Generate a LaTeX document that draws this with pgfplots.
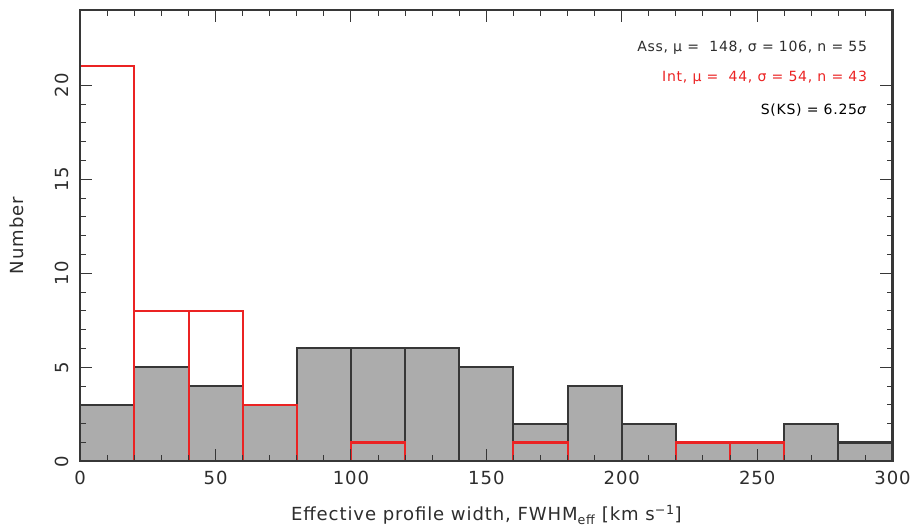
\documentclass[border=0pt]{standalone}
\usepackage{fontspec}
\setmainfont{DejaVu Sans}[LetterSpace=5]
\usepackage{pgfplots}
\pgfplotsset{compat=1.18}
\definecolor{barfill}{RGB}{172,172,172}
\definecolor{edge}{RGB}{55,55,55}
\definecolor{txt}{RGB}{45,45,45}
\definecolor{histred}{RGB}{235,35,35}
\begin{document}
\begin{tikzpicture}
\begin{axis}[
  width=810pt, height=450pt, scale only axis,
  xmin=0, xmax=300, ymin=0, ymax=24,
  xtick={0,50,...,300}, minor x tick num=4,
  ytick={0,5,...,20}, minor y tick num=4,
  tick align=inside, major tick length=12pt, minor tick length=6pt,
  tick style={edge, line width=1pt},
  axis line style={edge, line width=2.2pt},
  axis on top,
  /pgf/number format/assume math mode=true,
  ticklabel style={font=\fontsize{18}{20}\selectfont, text=txt},
  xticklabel shift=6pt,
  yticklabel shift=8pt,
  yticklabel style={rotate=90, anchor=south},
  xlabel={Effective profile width, FWHM\textsubscript{eff} [km s\textsuperscript{−1}]},
  ylabel={Number},
  xlabel shift=14pt,
  ylabel shift=24pt,
  label style={font=\fontsize{18}{20}\selectfont, text=txt},
  clip=false,
]
% Ass sample
\addplot[ybar, bar width=20, bar shift=0pt, fill=barfill, draw=edge, line width=2pt] coordinates {
(10,3) (30,5) (50,4) (70,3) (90,6) (110,6) (130,6) (150,5)
(170,2) (190,4) (210,2) (230,1) (250,1) (270,2) (290,1)};
% Int sample
\addplot[ybar, bar width=20, bar shift=0pt, fill=none, draw=histred, line width=2pt] coordinates {
(10,21) (30,8) (50,8) (70,3) (110,1) (170,1) (230,1) (250,1)};
\node[anchor=east, text=txt, font=\fontsize{14}{16}\selectfont] at (rel axis cs:0.973,0.916) {Ass, μ =\ \ 148, σ = 106, n = 55};
\node[anchor=east, text=histred, font=\fontsize{14}{16}\selectfont] at (rel axis cs:0.973,0.851) {Int, μ =\ \ 44, σ = 54, n = 43};
\node[anchor=east, text=black, font=\fontsize{14}{16}\selectfont] at (rel axis cs:0.973,0.778) {S(KS) = 6.25\textit{σ}};
\path (rel axis cs:0,1) ++(0,10pt);
\path (rel axis cs:0,0.5) ++(-80pt,0);
\end{axis}
\end{tikzpicture}
\end{document}
